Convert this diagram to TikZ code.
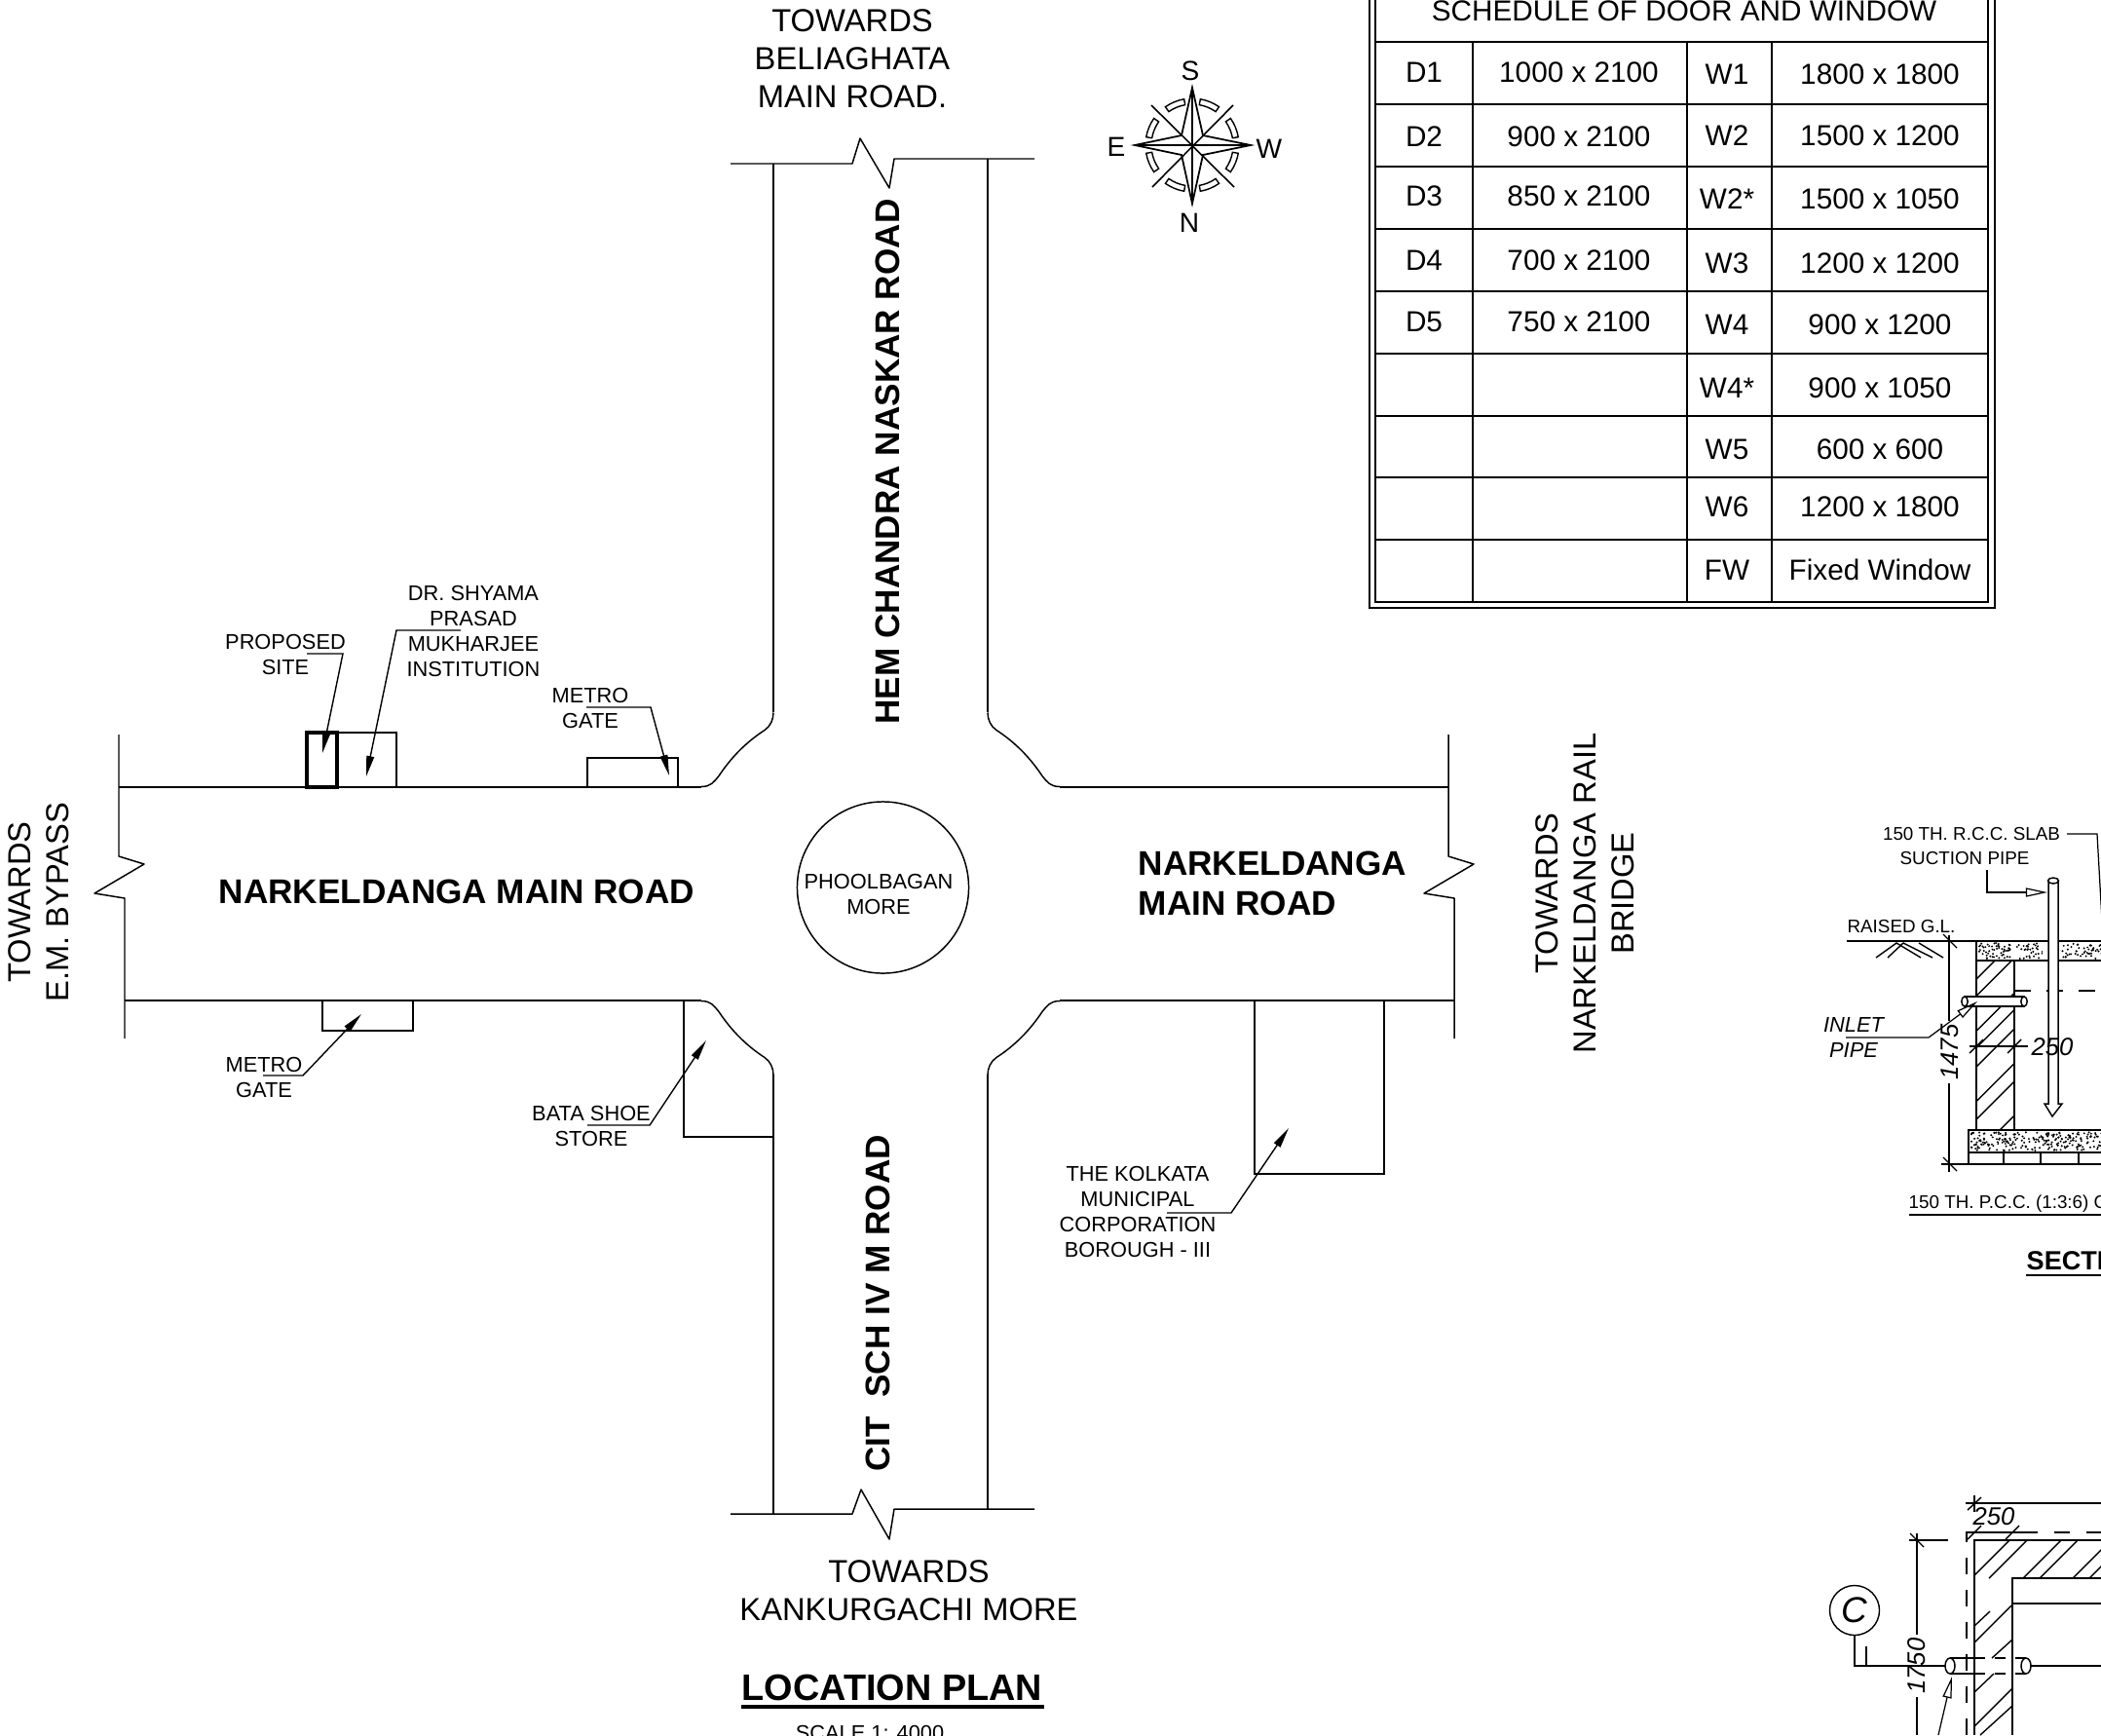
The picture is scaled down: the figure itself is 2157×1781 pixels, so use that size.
\documentclass[tikz,border=0pt]{standalone}
\usepackage{fontspec}
\setmainfont{Liberation Sans}
\usetikzlibrary{arrows.meta}

\begin{document}
\begin{tikzpicture}[
		x=0.01cm, y=-0.01cm,
		road/.style		={ line width=0.42pt, line join=round },
		wall/.style		={ line width=0.42pt },
		hatchline/.style	={ line width=0.4pt },
		leader/.style	={ line width=0.4pt, -{Triangle[length=6pt,width=2.2pt]} },
		openleader/.style	={ line width=0.35pt, -{Triangle[open,length=6.3pt,width=2.6pt]} },
		dimline/.style	={ line width=0.4pt },
		dashline/.style	={ line width=0.42pt, dash pattern=on 4.7pt off 4.7pt },
		tablecell/.style	={ inner sep=0pt, font=\fontsize{8.45}{10}\selectfont },
		roadname/.style	={ inner sep=0pt, align=left, font=\fontsize{10}{11.7}\selectfont\bfseries },
		towards/.style	={ inner sep=0pt, align=center, font=\fontsize{9.3}{11.1}\selectfont },
		small/.style		={ inner sep=0pt, align=center, font=\fontsize{6.2}{7.4}\selectfont },
		tiny/.style		={ inner sep=0pt, align=center, font=\fontsize{5.35}{7}\selectfont },
		dimtext/.style	={ inner sep=0pt, font=\fontsize{7.3}{9}\selectfont\itshape },
	]
	\clip (0,0) rectangle (2157,1781);

	\def\doorlist{D1/1000 x 2100/74, D2/900 x 2100/140, D3/850 x 2100/201,
									D4/700 x 2100/267, D5/750 x 2100/330}
	\def\windowlist{W1/1800 x 1800/76, W2/1500 x 1200/139, W2*/1500 x 1050/204,
									W3/1200 x 1200/270, W4/900 x 1200/333, W4*/900 x 1050/398,
									W5/600 x 600/461, W6/1200 x 1800/520, FW/Fixed Window/585}

	% draw the crossing roads
	\draw [road] (750,168) -- (875,168) -- (883,142) -- (913,193) -- (918,163) -- (1062,163);
	\draw [road] (750,1554) -- (875,1554) -- (884,1529) -- (913,1580) -- (918,1549) -- (1062,1549);
	\draw [road] (794,168) -- (794,731);
	\draw [road] (1014,163) -- (1014,731);
	\draw [road] (794,1103) -- (794,1554);
	\draw [road] (1014,1103) -- (1014,1549);
	\draw [road] (122,754) -- (122,879) -- (148,887) -- (97,917) -- (128,922) -- (128,1066);
	\draw [road] (1487,754) -- (1487,879) -- (1513,887) -- (1462,917) -- (1493,922) -- (1493,1066);
	\draw [road] (122,808) -- (720,808);
	\draw [road] (1088,808) -- (1487,808);
	\draw [road] (128,1027) -- (720,1027);
	\draw [road] (1088,1027) -- (1493,1027);
	\foreach \sx/\sy in {1/1, -1/1, 1/-1, -1/-1} {
		\begin{scope}[shift={(904,917.5)}, xscale=\sx, yscale=\sy]
			\draw [road] (-184,110) .. controls (-174,110) and (-171,115) .. (-166,121)
				.. controls (-154,139) and (-139,155) .. (-119,168)
				.. controls (-113,172) and (-110,179) .. (-110,186);
		\end{scope}
	}
	\node (roundabout) [circle, draw, line width=0.42pt, minimum size=1.76cm, inner sep=0pt] at (906.5,911) {};

	% draw buildings along the roads
	\draw [wall] (346,752) rectangle (407,808);
	\draw [wall] (603,778) rectangle (696,808);
	\draw [line width=1.1pt] (315,752) rectangle (346,808);
	\draw [wall] (331,1027) rectangle (424,1058);
	\draw [wall] (702,1027) -- (702,1167) -- (794,1167);
	\draw [wall] (1288,1027) -- (1288,1205) -- (1421,1205) -- (1421,1027);

	% road names and directions
	\node (hem) [roadname, rotate=90] at (911,474) {HEM CHANDRA NASKAR ROAD};
	\node (cit) [roadname, rotate=90] at (901,1338) {CIT\ \ SCH IV M ROAD};
	\node (nmr) [roadname] at (469,915) {NARKELDANGA MAIN ROAD};
	\node (nmr2) [roadname, anchor=west] at (1168,906.5) {NARKELDANGA\\MAIN ROAD};
	\node (more) [small] at (902,918) {PHOOLBAGAN\\MORE};
	\node (totop) [towards] at (875,60) {TOWARDS\\BELIAGHATA\\MAIN ROAD.};
	\node (toleft) [towards, rotate=90] at (40,926) {TOWARDS\\E.M. BYPASS};
	\node (toright) [towards, rotate=90] at (1627,917) {TOWARDS\\NARKELDANGA RAIL\\BRIDGE};
	\node (tobottom) [towards] at (933,1633) {TOWARDS\\KANKURGACHI MORE};

	% labels with their leaders
	\node (site) [small] at (293,672) {PROPOSED\\SITE};
	\draw [leader] (315,671) -- (352,671) -- (331,773);
	\node (inst) [small] at (486,648) {DR. SHYAMA\\PRASAD\\MUKHARJEE\\INSTITUTION};
	\draw [leader] (473,647) -- (407,647) -- (376,797);
	\node (gate1) [small] at (606,727) {METRO\\GATE};
	\draw [leader] (602,726) -- (668,726) -- (687,796);
	\node (gate2) [small] at (271,1106) {METRO\\GATE};
	\draw [leader] (270,1104) -- (311,1104) -- (371,1041);
	\node (bata) [small] at (607,1156) {BATA SHOE\\STORE};
	\draw [leader] (603,1155) -- (667,1155) -- (725,1068);
	\node (kmc) [small] at (1168,1244) {THE KOLKATA\\MUNICIPAL\\CORPORATION\\BOROUGH - III};
	\draw [leader] (1198,1245) -- (1264,1245) -- (1323,1158);

	% plan title
	\node (plantitle) [inner sep=0pt, font=\fontsize{10.76}{13}\selectfont\bfseries] at (916,1732) {LOCATION PLAN};
	\draw [line width=0.9pt] (761,1752) -- (1072,1752);
	\node (planscale) [small] at (893,1779) {SCALE 1: 4000};

	% draw the compass
	\coordinate (cps) at (1224,149);
	\draw [line width=0.45pt] (cps) ++(-42,-41) -- ++(85,84);
	\draw [line width=0.45pt] (cps) ++(42,-41) -- ++(-83,84);
	\draw [line width=0.5pt, line join=miter] (1224,90) -- (1235,139) -- (1284,149) -- (1235,159)
		-- (1224,209) -- (1213,159) -- (1165,149) -- (1213,139) -- cycle;
	\draw [line width=0.8pt] (1224,90) -- (1224,209);
	\draw [line width=0.6pt] (1165,149) -- (1284,149);
	\foreach \ang in {10,55,100,145,190,235,280,325} {
		\draw [line width=0.4pt] (cps) ++(\ang:48) arc[start angle=\ang, end angle=\ang+25, radius=48]
			-- ++(\ang+25+180:6) arc[start angle=\ang+25, end angle=\ang, radius=42] -- cycle;
	}
	\node (cpsS) [inner sep=0pt, font=\fontsize{8}{9}\selectfont] at (1222,73) {S};
	\node (cpsE) [inner sep=0pt, font=\fontsize{8}{9}\selectfont] at (1146,151) {E};
	\node (cpsW) [inner sep=0pt, font=\fontsize{8}{9}\selectfont] at (1303,153) {W};
	\node (cpsN) [inner sep=0pt, font=\fontsize{8}{9}\selectfont] at (1221,229) {N};

	% draw the schedule table
	\draw [line width=0.5pt] (1406,-10) rectangle (2048,624);
	\draw [line width=0.5pt] (1412,-10) rectangle (2041,618);
	\foreach \py in {43,107,171,235,299,363,427,490,554}
		\draw [line width=0.45pt] (1412,\py) -- (2041,\py);
	\foreach \px in {1512,1732,1819}
		\draw [line width=0.45pt] (\px,43) -- (\px,618);
	\node (schedtitle) [tablecell] at (1729,11) {SCHEDULE OF DOOR AND WINDOW};
	\foreach \name/\size/\py [count=\i] in \doorlist {
		\node (door\i) [tablecell] at (1462,\py) {\name};
		\node (doorsize\i) [tablecell] at (1621,\py) {\size};
	}
	\foreach \name/\size/\py [count=\i] in \windowlist {
		\node (win\i) [tablecell] at (1773,\py) {\name};
		\node (winsize\i) [tablecell] at (1930,\py) {\size};
	}

	% section: slabs with random stipple
	\pgfmathsetseed{42}
	\foreach \sx/\sy/\sw/\sh/\num in {2031/968/130/16/170, 2023/1162/137/19/240} {
		\foreach \k in {1,...,\num} {
			\pgfmathsetmacro\dotx{\sx+rnd*\sw}
			\pgfmathsetmacro\doty{\sy+rnd*\sh}
			\fill (\dotx,\doty) circle (1.1);
		}
	}
	\fill [white] (2097,967) rectangle (2115,985);
	\draw [wall] (1896,966) -- (2160,966);
	\draw [wall] (2029,966) -- (2029,1160);
	\draw [wall] (2068,986) -- (2068,1160);
	\draw [wall] (2029,986) -- (2160,986);
	\draw [wall] (2021,1160) rectangle (2160,1183);
	\draw [wall] (1993,1195) -- (2160,1195);
	\foreach \px in {2021,2057,2095,2134}
		\draw [wall] (\px,1183) -- (\px,1195);
	\draw [dashline] (2068,1017) -- (2160,1017);

	% section: wall hatching
	\begin{scope}
		\clip (2029,986) rectangle (2068,1160);
		\foreach \v in {615,667,775,827,885,992,1047,1152}
			\draw [hatchline] (2029,800+\v/3) -- ++(39,-39);
	\end{scope}

	% section: pipes
	\draw [wall, fill=white] (2103,904) -- (2103,1133) -- (2099,1133) -- (2107,1146)
		-- (2117,1133) -- (2113,1133) -- (2113,904);
	\draw [wall, fill=white] (2108,904) ellipse (5.5 and 3);
	\draw [wall, fill=white] (2017,1023) rectangle (2078,1033);
	\draw [wall, fill=white] (2017,1028) ellipse (3.2 and 5);
	\draw [wall, fill=white] (2078,1028) ellipse (3.2 and 5);

	% section: ground symbol
	\draw [line width=0.4pt] (1926,983) -- (1947,968) -- (1972,983);
	\draw [line width=0.4pt] (1938,983) -- (1954,968) -- (1984,983);
	\draw [line width=0.4pt] (1970,968) -- (1995,983);

	% section: labels
	\node (slab) [tiny] at (2024,856) {150 TH. R.C.C. SLAB};
	\draw [line width=0.35pt] (2122,856) -- (2153,856) -- (2158,945);
	\node (suction) [tiny] at (2017,881) {SUCTION PIPE};
	\draw [openleader] (2040,893) -- (2040,916) -- (2102,916);
	\node (raised) [tiny] at (1952,951) {RAISED G.L.};
	\node (inlet) [inner sep=0pt, align=center, font=\fontsize{6.2}{7.4}\selectfont\itshape] at (1903,1065) {INLET\\PIPE};
	\draw [openleader] (1895,1065) -- (1980,1065) -- (2030,1028);
	\node (pcc) [tiny, anchor=west] at (1959,1236) {150 TH. P.C.C. (1:3:6) C};
	\draw [line width=0.35pt] (1960,1247) -- (2160,1247);
	\node (secttitle) [inner sep=0pt, anchor=west, font=\fontsize{7.7}{10}\selectfont\bfseries] at (2080,1294) {SECTI};
	\draw [line width=0.8pt] (2080,1309) -- (2160,1309);

	% section: dimensions
	\node (dimH) [dimtext, rotate=90] at (2002,1080) {1475};
	\draw [dimline] (2001,960) -- (2001,1048);
	\draw [dimline] (2001,1112) -- (2001,1203);
	\draw [dimline] (1995,959) -- (2009,973);
	\draw [dimline] (1995,1188) -- (2009,1202);
	\node (dimW) [dimtext] at (2107,1075) {250};
	\draw [dimline] (2022,1074) -- (2082,1074);
	\draw [dimline] (2022,1081) -- (2036,1067);
	\draw [dimline] (2061,1081) -- (2075,1067);

	% plan below the section
	\draw [wall] (2027,1781) -- (2027,1581) -- (2160,1581);
	\draw [wall] (2066,1781) -- (2066,1620) -- (2160,1620);
	\draw [wall] (2066,1646) -- (2160,1646);
	\draw [dashline] (2019,1781) -- (2019,1573) -- (2160,1573);
	\foreach \ax/\ay/\bx/\by in {2042/1620/2081/1581, 2077/1620/2116/1581, 2094/1620/2133/1581,
			2128/1620/2167/1581, 2145/1620/2184/1581, 2027/1617/2063/1581,
			2027/1669/2043/1654, 2027/1686/2065/1648, 2045/1702/2066/1683,
			2027/1737/2047/1718, 2027/1772/2066/1733, 2033/1781/2066/1751}
		\draw [hatchline] (\ax,\ay) -- (\bx,\by);

	% plan: pipe and section mark
	\node (secC) [circle, draw, line width=0.4pt, inner sep=0pt, minimum size=0.51cm,
			font=\fontsize{10.5}{12}\selectfont\itshape] at (1904,1653) {C};
	\draw [line width=0.5pt] (secC.south) -- (1904,1710) -- (1997,1710);
	\draw [line width=0.5pt] (2085,1710) -- (2160,1710);
	\draw [wall] (1916,1690) -- (1916,1710);
	\draw [wall] (2002,1702) -- (2027,1702);
	\draw [wall] (2002,1718) -- (2027,1718);
	\draw [wall, dashed] (2027,1702) -- (2080,1702);
	\draw [wall, dashed] (2027,1718) -- (2080,1718);
	\draw [wall, fill=white] (2002,1710) ellipse (5 and 8);
	\draw [wall, fill=white] (2080,1710) ellipse (5 and 8);
	\draw [openleader] (1990,1781) -- (2004,1721);

	% plan: dimensions
	\draw [dimline] (2018,1543) -- (2160,1543);
	\draw [dimline] (2027,1535) -- (2027,1552);
	\draw [dimline] (2020,1550) -- (2034,1537);
	\node (planW) [dimtext] at (2047,1557) {250};
	\draw [dimline] (2019,1573) -- (2077,1573);
	\draw [dimline] (2020,1580) -- (2034,1566);
	\draw [dimline] (2059,1580) -- (2073,1566);
	\draw [dimline] (1960,1581) -- (2000,1581);
	\draw [dimline] (1961,1574) -- (1975,1588);
	\node (planH) [dimtext, rotate=90] at (1968,1710) {1750};
	\draw [dimline] (1968,1574) -- (1968,1678);
	\draw [dimline] (1968,1742) -- (1968,1781);
\end{tikzpicture}
\end{document}
